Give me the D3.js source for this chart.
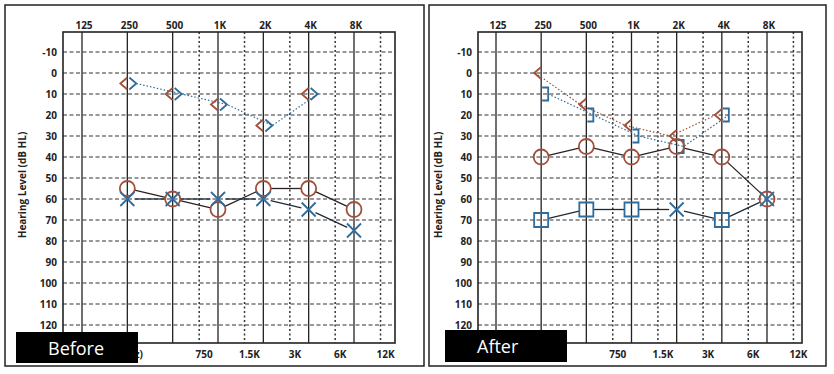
<!DOCTYPE html>
<html>
<head>
<meta charset="utf-8">
<script src="https://cdn.jsdelivr.net/npm/d3@7/dist/d3.min.js"></script>
<style>
  body { margin: 0; background: #fff; }
  svg text { font-family: 'Open Sans', 'Noto Sans', sans-serif; }
</style>
</head>
<body>
<div id="chart"></div>
<script>
// frequency grid
var octaveFreqs = [125, 250, 500, 1000, 2000, 4000, 8000];
var octaveLabels = ['125', '250', '500', '1K', '2K', '4K', '8K'];
var midFreqs = [750, 1500, 3000, 6000, 12000];
var midLabels = ['750', '1.5K', '3K', '6K', '12K'];
var dbTicks = [-10, 0, 10, 20, 30, 40, 50, 60, 70, 80, 90, 100, 110, 120];

var acFreqs = [250, 500, 1000, 2000, 4000, 8000];
var bcFreqs = [250, 500, 1000, 2000, 4000];

// Before
var beforeRightAC = [55, 60, 65, 55, 55, 65];
var beforeLeftAC = [60, 60, 60, 60, 65, 75];
var beforeLeftSymbols = ['x', 'x', 'x', 'x', 'x', 'x'];
var beforeRightBC = [5, 10, 15, 25, 10];
var beforeLeftBC = [5, 10, 15, 25, 10];

// After
var afterRightAC = [40, 35, 40, 35, 40, 60];
var afterLeftAC = [70, 65, 65, 65, 70, 60];
var afterLeftSymbols = ['square', 'square', 'square', 'x', 'square', 'x'];
var afterRightBC = [0, 15, 25, 30, 20];
var afterLeftBC = [10, 20, 30, 35, 20];

var red = '#a0503a',
    blue = '#2f6c9c',
    ink = '#222';

var W = 834, H = 374;

var svg = d3.select('#chart').append('svg')
    .attr('width', W)
    .attr('height', H);

var panels = [
  {
    label: 'Before', border: [5, 5, 419, 361], range: [82, 354], frame: [63, 395],
    box: [16, 332, 122, 31], tickX: 57, titleX: 26, showHz: true,
    rightAC: beforeRightAC, leftAC: beforeLeftAC, leftSymbols: beforeLeftSymbols,
    rightBC: beforeRightBC, leftBC: beforeLeftBC, leftBCShape: '>',
    rightBCLine: false
  },
  {
    label: 'After', border: [429, 5, 397, 361], range: [496, 767], frame: [478, 802],
    box: [445, 330, 122, 32], tickX: 472, titleX: 442, showHz: false,
    rightAC: afterRightAC, leftAC: afterLeftAC, leftSymbols: afterLeftSymbols,
    rightBC: afterRightBC, leftBC: afterLeftBC, leftBCShape: ']',
    rightBCLine: true
  }
];

var yScale = d3.scaleLinear().domain([-10, 120]).range([52, 325]);
var frameTop = 32, frameBottom = 343;

panels.forEach(drawPanel);

function drawPanel(p, k) {
  var x = d3.scaleLog().domain([125, 8000]).range(p.range);
  var g = svg.append('g');

  g.append('rect')
      .attr('x', p.border[0])
      .attr('y', p.border[1])
      .attr('width', p.border[2])
      .attr('height', p.border[3])
      .style('fill', '#fff')
      .style('stroke', ink)
      .style('stroke-width', 1.5);

  // horizontal dashed grid
  g.selectAll('.hgrid')
      .data(dbTicks)
    .enter().append('line')
      .attr('x1', p.frame[0])
      .attr('x2', p.frame[1])
      .attr('y1', yScale)
      .attr('y2', yScale)
      .style('stroke', '#333')
      .style('stroke-width', 1.1)
      .style('stroke-dasharray', '4,2.5');

  // octave lines
  g.selectAll('.vgrid')
      .data(octaveFreqs)
    .enter().append('line')
      .attr('x1', x)
      .attr('x2', x)
      .attr('y1', frameTop)
      .attr('y2', frameBottom)
      .style('stroke', ink)
      .style('stroke-width', 1.3);

  // inter-octave lines
  g.selectAll('.mgrid')
      .data(midFreqs)
    .enter().append('line')
      .attr('x1', x)
      .attr('x2', x)
      .attr('y1', frameTop)
      .attr('y2', frameBottom)
      .style('stroke', '#333')
      .style('stroke-width', 1.5)
      .style('stroke-dasharray', '2,2.5');

  g.append('rect')
      .attr('x', p.frame[0])
      .attr('y', frameTop)
      .attr('width', p.frame[1] - p.frame[0])
      .attr('height', frameBottom - frameTop)
      .style('fill', 'none')
      .style('stroke', ink)
      .style('stroke-width', 1.6);

  // tick labels
  g.selectAll('.top')
      .data(octaveFreqs)
    .enter().append('text')
      .attr('x', function(d) { return x(d) + 2; })
      .attr('y', 29)
      .style('text-anchor', 'middle')
      .style('font-size', '10px')
      .style('font-weight', 700)
      .style('fill', ink)
      .text(function(d, i) { return octaveLabels[i]; });

  g.selectAll('.bottom')
      .data(midFreqs)
    .enter().append('text')
      .attr('x', function(d) { return x(d) + 5; })
      .attr('y', 358)
      .style('text-anchor', 'middle')
      .style('font-size', '10px')
      .style('font-weight', 700)
      .style('fill', ink)
      .text(function(d, i) { return midLabels[i]; });

  // axis unit, mostly hidden behind the label box
  if (p.showHz) {
    var clipId = 'hzclip' + k;
    svg.append('clipPath')
        .attr('id', clipId)
      .append('rect')
        .attr('x', p.box[0] + p.box[2])
        .attr('y', 340)
        .attr('width', 20)
        .attr('height', 25);
    g.append('text')
        .attr('clip-path', 'url(#' + clipId + ')')
        .attr('x', p.box[0] + p.box[2] + 5)
        .attr('y', 358)
        .style('text-anchor', 'end')
        .style('font-size', '10px')
        .style('font-weight', 700)
        .style('fill', ink)
        .text('(Hz)');
  }

  g.selectAll('.ytick')
      .data(dbTicks)
    .enter().append('text')
      .attr('x', p.tickX)
      .attr('y', function(d) { return yScale(d) + 3.5; })
      .style('text-anchor', 'end')
      .style('font-size', '10px')
      .style('font-weight', 700)
      .style('fill', ink)
      .text(function(d) { return d; });

  g.append('text')
      .attr('transform', 'translate(' + p.titleX + ',' + 185 + ') rotate(-90)')
      .style('text-anchor', 'middle')
      .style('font-size', '10px')
      .style('font-weight', 700)
      .style('fill', ink)
      .text('Hearing Level (dB HL)');

  // bone conduction dotted lines
  var bcLine = function(dx) {
    return d3.line()
        .x(function(d, i) { return x(bcFreqs[i]) + dx; })
        .y(function(d) { return yScale(d); });
  };

  if (p.rightBCLine) {
    g.append('path')
        .attr('d', bcLine(-6)(p.rightBC))
        .style('fill', 'none')
        .style('stroke', red)
        .style('stroke-width', 1.2)
        .style('stroke-dasharray', '1.5,2');
  }

  g.append('path')
      .attr('d', bcLine(p.leftBCShape === '>' ? 9 : 7)(p.leftBC))
      .style('fill', 'none')
      .style('stroke', blue)
      .style('stroke-width', 1.2)
      .style('stroke-dasharray', '1.5,2');

  // air conduction solid lines, trimmed at the symbols
  drawAcLine(g, x, p.rightAC, '#2a2220');
  drawAcLine(g, x, p.leftAC, '#1f2a36');

  // right ear bone conduction  <
  g.selectAll('.rbc')
      .data(p.rightBC)
    .enter().append('path')
      .attr('d', function(d, i) {
        var cx = x(bcFreqs[i]), cy = yScale(d);
        return 'M' + (cx) + ',' + (cy - 6) + 'L' + (cx - 7) + ',' + cy + 'L' + cx + ',' + (cy + 6);
      })
      .style('fill', 'none')
      .style('stroke', red)
      .style('stroke-width', 1.8);

  // left ear bone conduction  > or ]
  g.selectAll('.lbc')
      .data(p.leftBC)
    .enter().append('path')
      .attr('d', function(d, i) {
        var cx = x(bcFreqs[i]), cy = yScale(d);
        if (p.leftBCShape === '>') {
          return 'M' + (cx + 2) + ',' + (cy - 6) + 'L' + (cx + 9) + ',' + cy + 'L' + (cx + 2) + ',' + (cy + 6);
        }
        return 'M' + (cx + 1) + ',' + (cy - 6.5) + 'H' + (cx + 7) + 'V' + (cy + 6.5) + 'H' + (cx + 1);
      })
      .style('fill', 'none')
      .style('stroke', blue)
      .style('stroke-width', 1.8);

  // right ear air conduction  O
  g.selectAll('.rac')
      .data(p.rightAC)
    .enter().append('circle')
      .attr('cx', function(d, i) { return x(acFreqs[i]); })
      .attr('cy', yScale)
      .attr('r', 7.5)
      .style('fill', 'none')
      .style('stroke', red)
      .style('stroke-width', 1.8);

  // left ear air conduction  X or square
  g.selectAll('.lac')
      .data(p.leftAC)
    .enter().append('path')
      .attr('d', function(d, i) {
        var cx = x(acFreqs[i]), cy = yScale(d), s = 7;
        if (p.leftSymbols[i] === 'square') {
          return 'M' + (cx - s) + ',' + (cy - s) + 'h' + 2 * s + 'v' + 2 * s + 'h' + (-2 * s) + 'Z';
        }
        return 'M' + (cx - s) + ',' + (cy - s) + 'L' + (cx + s) + ',' + (cy + s) +
               'M' + (cx + s) + ',' + (cy - s) + 'L' + (cx - s) + ',' + (cy + s);
      })
      .style('fill', 'none')
      .style('stroke', blue)
      .style('stroke-width', 1.8);

  // label box
  g.append('rect')
      .attr('x', p.box[0])
      .attr('y', p.box[1])
      .attr('width', p.box[2])
      .attr('height', p.box[3])
      .style('fill', '#000');

  g.append('text')
      .attr('x', p.box[0] + 32)
      .attr('y', p.box[1] + 23)
      .style('font-size', '18px')
      .style('fill', '#fff')
      .text(p.label);
}

function drawAcLine(g, x, values, colour) {
  var pts = values.map(function(d, i) { return [x(acFreqs[i]), yScale(d)]; });
  var trim = 7.5;
  d3.pairs(pts).forEach(function(pr) {
    var dx = pr[1][0] - pr[0][0], dy = pr[1][1] - pr[0][1];
    var len = Math.sqrt(dx * dx + dy * dy);
    if (len <= 2 * trim) return;
    var ux = dx / len, uy = dy / len;
    g.append('line')
        .attr('x1', pr[0][0] + ux * trim)
        .attr('y1', pr[0][1] + uy * trim)
        .attr('x2', pr[1][0] - ux * trim)
        .attr('y2', pr[1][1] - uy * trim)
        .style('stroke', colour)
        .style('stroke-width', 1.3);
  });
}
</script>
</body>
</html>
